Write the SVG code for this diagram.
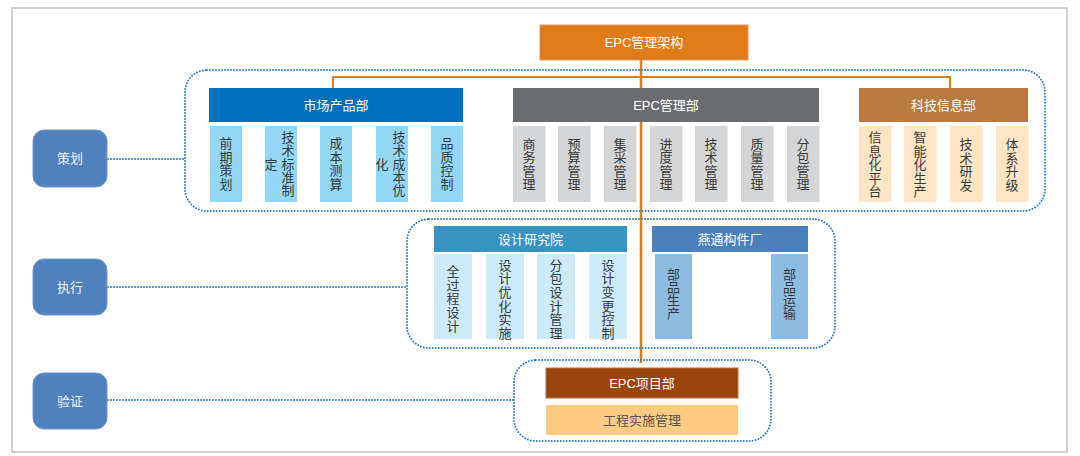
<svg xmlns="http://www.w3.org/2000/svg" width="1080" height="456" viewBox="0 0 1080 456">
<style>
  .t { font-family: "Liberation Sans", "Noto Sans CJK SC", sans-serif; text-anchor: middle; dominant-baseline: central; }
  .hw { font-size: 13px; fill: #ffffff; }
  .v { font-size: 13px; fill: #3a3a3a; }
  .lb { font-size: 13px; fill: #eef3fa; }
  .dot { fill: none; stroke: #2f7dc1; stroke-width: 2; stroke-dasharray: 0 3; stroke-linecap: round; }
  .or { fill: none; stroke: #e07b1a; }
  .side { fill: #4f81bd; stroke: #6f99cb; stroke-width: 1; }
  .s1 { fill: #92d7f5; }
  .s2 { fill: #d4d5d7; }
  .s3 { fill: #fde5c5; }
  .s4 { fill: #cdeaf9; }
  .s5 { fill: #8dbce3; }
</style>
<rect x="0" y="0" width="1080" height="456" fill="#ffffff"/>
<rect x="12" y="8" width="1055" height="444" fill="#ffffff" stroke="#c2c2c2" stroke-width="1.5"/>

<g id="connectors">
  <path class="or" stroke-width="2.5" d="M641 60 V363"/>
  <path class="or" stroke-width="2" d="M333 88 V77 H950 V88"/>
  <path class="dot" d="M108 159 H185"/>
  <path class="dot" d="M108 287 H407"/>
  <path class="dot" d="M108 400 H514"/>
</g>

<g id="groups">
  <rect class="dot" x="185" y="70" width="860" height="141" rx="22"/>
  <rect class="dot" x="407" y="219" width="428" height="129" rx="22"/>
  <rect class="dot" x="514" y="360" width="257" height="81" rx="22"/>
</g>

<g id="top">
  <rect x="540" y="25" width="208" height="35" fill="#e07b1a" stroke="#e99a55" stroke-width="1"/>
  <text class="t hw" x="644" y="42.5">EPC管理架构</text>
</g>

<g id="side-cehua">
  <rect class="side" x="33" y="130" width="74" height="57" rx="11"/>
  <text class="t lb" x="70" y="158.5">策划</text>
</g>
<g id="side-zhixing">
  <rect class="side" x="33" y="259" width="74" height="56" rx="11"/>
  <text class="t lb" x="70" y="287">执行</text>
</g>
<g id="side-yanzheng">
  <rect class="side" x="33" y="373" width="74" height="56" rx="11"/>
  <text class="t lb" x="70" y="401">验证</text>
</g>

<g id="shichang">
  <rect x="209" y="88" width="254" height="34" fill="#0070ba"/>
  <text class="t hw" x="336" y="105">市场产品部</text>
  <rect class="s1" x="210" y="126" width="32" height="76"/>
  <text class="t v"><tspan x="226" y="143">前</tspan><tspan x="226" y="156.5">期</tspan><tspan x="226" y="170">策</tspan><tspan x="226" y="183.5">划</tspan></text>
  <rect class="s1" x="265" y="126" width="32" height="76"/>
  <text class="t v"><tspan x="288" y="137">技</tspan><tspan x="288" y="150.3">术</tspan><tspan x="288" y="163.6">标</tspan><tspan x="288" y="176.9">准</tspan><tspan x="288" y="190.2">制</tspan><tspan x="271" y="163.6">定</tspan></text>
  <rect class="s1" x="320" y="126" width="32" height="76"/>
  <text class="t v"><tspan x="336" y="143">成</tspan><tspan x="336" y="156.5">本</tspan><tspan x="336" y="170">测</tspan><tspan x="336" y="183.5">算</tspan></text>
  <rect class="s1" x="376" y="126" width="32" height="76"/>
  <text class="t v"><tspan x="399" y="137">技</tspan><tspan x="399" y="150.3">术</tspan><tspan x="399" y="163.6">成</tspan><tspan x="399" y="176.9">本</tspan><tspan x="399" y="190.2">优</tspan><tspan x="382" y="163.6">化</tspan></text>
  <rect class="s1" x="431" y="126" width="32" height="76"/>
  <text class="t v"><tspan x="447" y="143">品</tspan><tspan x="447" y="156.5">质</tspan><tspan x="447" y="170">控</tspan><tspan x="447" y="183.5">制</tspan></text>
</g>

<g id="epc-guanli">
  <rect x="513" y="88" width="306" height="34" fill="#6b6c70"/>
  <text class="t hw" x="666" y="105">EPC管理部</text>
  <rect class="s2" x="513" y="126" width="32.5" height="76"/>
  <text class="t v"><tspan x="529" y="144">商</tspan><tspan x="529" y="157.3">务</tspan><tspan x="529" y="170.6">管</tspan><tspan x="529" y="183.9">理</tspan></text>
  <rect class="s2" x="558" y="126" width="32.5" height="76"/>
  <text class="t v"><tspan x="574" y="144">预</tspan><tspan x="574" y="157.3">算</tspan><tspan x="574" y="170.6">管</tspan><tspan x="574" y="183.9">理</tspan></text>
  <rect class="s2" x="604" y="126" width="32.5" height="76"/>
  <text class="t v"><tspan x="620" y="144">集</tspan><tspan x="620" y="157.3">采</tspan><tspan x="620" y="170.6">管</tspan><tspan x="620" y="183.9">理</tspan></text>
  <rect class="s2" x="650" y="126" width="32.5" height="76"/>
  <text class="t v"><tspan x="666" y="144">进</tspan><tspan x="666" y="157.3">度</tspan><tspan x="666" y="170.6">管</tspan><tspan x="666" y="183.9">理</tspan></text>
  <rect class="s2" x="695" y="126" width="32.5" height="76"/>
  <text class="t v"><tspan x="711" y="144">技</tspan><tspan x="711" y="157.3">术</tspan><tspan x="711" y="170.6">管</tspan><tspan x="711" y="183.9">理</tspan></text>
  <rect class="s2" x="741" y="126" width="32.5" height="76"/>
  <text class="t v"><tspan x="757" y="144">质</tspan><tspan x="757" y="157.3">量</tspan><tspan x="757" y="170.6">管</tspan><tspan x="757" y="183.9">理</tspan></text>
  <rect class="s2" x="787" y="126" width="32.5" height="76"/>
  <text class="t v"><tspan x="803" y="144">分</tspan><tspan x="803" y="157.3">包</tspan><tspan x="803" y="170.6">管</tspan><tspan x="803" y="183.9">理</tspan></text>
</g>

<g id="keji">
  <rect x="859" y="88" width="169" height="34" fill="#b97b3f"/>
  <text class="t hw" x="943.5" y="105">科技信息部</text>
  <rect class="s3" x="859" y="126" width="32.5" height="76"/>
  <text class="t v"><tspan x="875" y="137">信</tspan><tspan x="875" y="150.5">息</tspan><tspan x="875" y="164">化</tspan><tspan x="875" y="177.5">平</tspan><tspan x="875" y="191">台</tspan></text>
  <rect class="s3" x="904" y="126" width="32.5" height="76"/>
  <text class="t v"><tspan x="920" y="137">智</tspan><tspan x="920" y="150.5">能</tspan><tspan x="920" y="164">化</tspan><tspan x="920" y="177.5">生</tspan><tspan x="920" y="191">产</tspan></text>
  <rect class="s3" x="950" y="126" width="32.5" height="76"/>
  <text class="t v"><tspan x="966" y="144">技</tspan><tspan x="966" y="157.5">术</tspan><tspan x="966" y="171">研</tspan><tspan x="966" y="184.5">发</tspan></text>
  <rect class="s3" x="996" y="126" width="32.5" height="76"/>
  <text class="t v"><tspan x="1012" y="144">体</tspan><tspan x="1012" y="157.5">系</tspan><tspan x="1012" y="171">升</tspan><tspan x="1012" y="184.5">级</tspan></text>
</g>

<g id="sheji">
  <rect x="434" y="226" width="193" height="26" fill="#3893c2"/>
  <text class="t hw" x="530.5" y="239">设计研究院</text>
  <rect class="s4" x="434" y="254" width="38" height="85"/>
  <text class="t v"><tspan x="453" y="271">全</tspan><tspan x="453" y="284.7">过</tspan><tspan x="453" y="298.4">程</tspan><tspan x="453" y="312.1">设</tspan><tspan x="453" y="325.8">计</tspan></text>
  <rect class="s4" x="486" y="254" width="38" height="85"/>
  <text class="t v"><tspan x="505" y="264.5">设</tspan><tspan x="505" y="278.2">计</tspan><tspan x="505" y="291.9">优</tspan><tspan x="505" y="305.6">化</tspan><tspan x="505" y="319.3">实</tspan><tspan x="505" y="333">施</tspan></text>
  <rect class="s4" x="537" y="254" width="38" height="85"/>
  <text class="t v"><tspan x="556" y="264.5">分</tspan><tspan x="556" y="278.2">包</tspan><tspan x="556" y="291.9">设</tspan><tspan x="556" y="305.6">计</tspan><tspan x="556" y="319.3">管</tspan><tspan x="556" y="333">理</tspan></text>
  <rect class="s4" x="589" y="254" width="38" height="85"/>
  <text class="t v"><tspan x="608" y="264.5">设</tspan><tspan x="608" y="278.2">计</tspan><tspan x="608" y="291.9">变</tspan><tspan x="608" y="305.6">更</tspan><tspan x="608" y="319.3">控</tspan><tspan x="608" y="333">制</tspan></text>
</g>

<g id="yantong">
  <rect x="652" y="226" width="156" height="26" fill="#4b80bc"/>
  <text class="t hw" x="730" y="239">燕通构件厂</text>
  <rect class="s5" x="655" y="254" width="37" height="85"/>
  <text class="t v"><tspan x="673.5" y="274">部</tspan><tspan x="673.5" y="287">品</tspan><tspan x="673.5" y="300">生</tspan><tspan x="673.5" y="313">产</tspan></text>
  <rect class="s5" x="771" y="254" width="37" height="85"/>
  <text class="t v"><tspan x="789.5" y="274">部</tspan><tspan x="789.5" y="287">品</tspan><tspan x="789.5" y="300">运</tspan><tspan x="789.5" y="313">输</tspan></text>
</g>

<g id="xiangmu">
  <rect x="546" y="368" width="192" height="30" fill="#9a440e" stroke="#b8703f" stroke-width="1"/>
  <text class="t hw" x="642" y="383.5">EPC项目部</text>
</g>
<g id="shishi">
  <rect x="546" y="405" width="192" height="30" fill="#fecb83"/>
  <text class="t" style="font-size:13px; fill:#555555" x="642" y="420.5">工程实施管理</text>
</g>
</svg>
